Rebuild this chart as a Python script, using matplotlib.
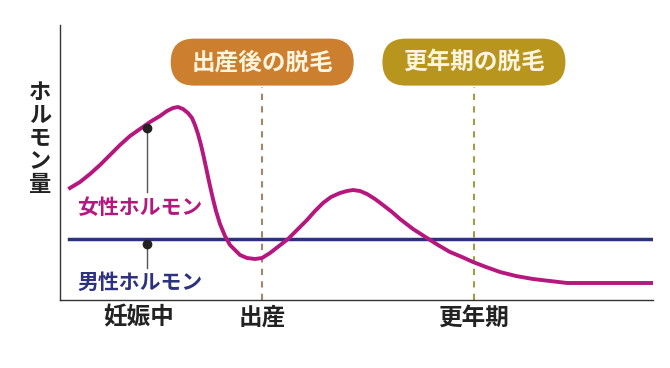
import matplotlib
matplotlib.use("Agg")
import matplotlib.pyplot as plt
import matplotlib.transforms as mtransforms
from matplotlib.patches import FancyBboxPatch

plt.rcParams["font.family"] = ["Noto Sans CJK JP", "DejaVu Sans"]

# female hormone curve in pixels, then mapped to 0-100
female_px = [70, 80, 90, 100, 110, 120, 130, 140, 150, 160, 167, 173, 178, 183,
             188, 192, 195, 198, 201, 204, 207, 210, 213, 216, 220, 225, 230,
             235, 240, 247, 255, 262, 270, 279, 288, 297, 307, 315, 323, 331,
             340, 347, 353, 360, 367, 375, 383, 392, 400, 413, 427, 438, 450,
             462, 473, 486, 500, 516, 533, 550, 567, 585, 600, 625, 653]
female_py = [188, 182, 174, 165, 155, 145, 136, 129, 122, 116, 111, 108, 107, 109,
             113, 118, 125, 134, 145, 158, 172, 186, 199, 211, 224, 236, 245,
             250, 255, 258, 259, 258, 253, 246, 239, 230, 220, 211, 203, 197,
             193, 191, 190, 191, 194, 199, 205, 212, 219, 229, 238, 245, 252,
             257, 262, 267, 272, 276, 279, 281, 283, 283, 283, 283, 283]
female_t = [(x - 60) / 5.93 for x in female_px]
female_h = [(300 - y) / 2.75 for y in female_py]

male_t = [1.5, 100.0]
male_h = [22.2, 22.2]

tick_t = [13.2, 34.1, 69.8]
tick_labels = ["妊娠中", "出産", "更年期"]

events_t = [34.1, 69.8]
events_labels = ["出産後の脱毛", "更年期の脱毛"]
events_colors = ["#cc7f2e", "#b8961e"]
events_line_colors = ["#a3866a", "#a39b45"]

female_color = "#b5177f"
male_color = "#2e3180"

fig = plt.figure(figsize=(6.7, 3.68), dpi=100)
ax = fig.add_axes([60 / 670, 1 - 300 / 368, 593 / 670, 275 / 368])
ax.set_xlim(0, 100)
ax.set_ylim(0, 100)

for s in ["top", "right"]:
    ax.spines[s].set_visible(False)
for s in ["left", "bottom"]:
    ax.spines[s].set_color("#333333")
    ax.spines[s].set_linewidth(1.0)

ax.set_yticks([])
ax.set_xticks(tick_t)
ax.set_xticklabels(tick_labels, fontsize=17, fontweight="bold", color="#222222")
ax.tick_params(axis="x", length=0, pad=4)

# dashed event lines
for t, c in zip(events_t, events_line_colors):
    ax.plot([t, t], [0, 77.5], color=c, lw=1.5, ls=(0, (3, 3)), zorder=1)

ax.plot(male_t, male_h, color=male_color, lw=2.5, zorder=2)
ax.plot(female_t, female_h, color=female_color, lw=2.8, zorder=3,
        solid_joinstyle="round")

# leader lines with dots
ax.plot([14.6, 14.6], [39.3, 62.5], color="#555555", lw=1, zorder=4)
ax.plot([14.6], [62.5], "o", color="#222222", ms=6, zorder=5)
ax.plot([14.6, 14.6], [11.6, 20.4], color="#555555", lw=1, zorder=4)
ax.plot([14.6], [20.4], "o", color="#222222", ms=6, zorder=5)

ax.text(13.5, 33.8, "女性ホルモン", color=female_color, fontsize=15,
        fontweight="bold", ha="center", va="center")
ax.text(13.5, 6.5, "男性ホルモン", color=male_color, fontsize=15,
        fontweight="bold", ha="center", va="center")

# event pills
for t, lab, c in zip(events_t, events_labels, events_colors):
    tr = fig.dpi_scale_trans + mtransforms.ScaledTranslation(t, 86.5, ax.transData)
    box = FancyBboxPatch((-0.915, -0.235), 1.83, 0.47,
                         boxstyle="round,pad=0,rounding_size=0.235",
                         transform=tr, facecolor=c, edgecolor="none",
                         clip_on=False, zorder=6)
    ax.add_patch(box)
    ax.text(t, 86.5, lab, color="#fdf5df", fontsize=17, fontweight="bold",
            ha="center", va="center", zorder=7)

# vertical y label
ylab = "ホルモン量"
for i, ch in enumerate(ylab):
    ax.text(-0.034, 0.755 - i * 0.084, ch, transform=ax.transAxes,
            fontsize=16, fontweight="bold", color="#222222",
            ha="center", va="center")

fig.savefig("out.png", dpi=100)
